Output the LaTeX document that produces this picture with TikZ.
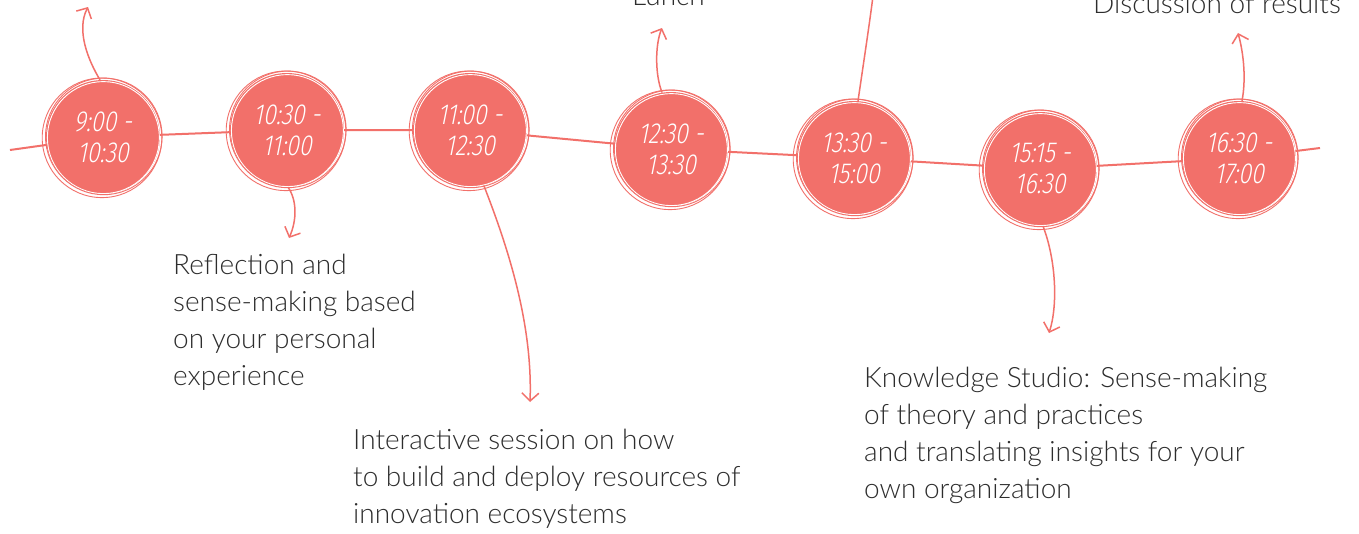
\documentclass[tikz,border=0pt]{standalone}
\usepackage{fontspec}
\setmainfont{Lato Light}
\newfontfamily\circfont{Fira Sans Light}[FakeStretch=0.8,FakeSlant=0.2]
\usetikzlibrary{arrows.meta,backgrounds}
\definecolor{coral}{RGB}{242,112,106}
\definecolor{ink}{RGB}{45,45,45}
\tikzset{
  slot/.style={circle, fill=coral, minimum size=114pt, inner sep=0pt,
    align=center, text=white, font=\circfont\fontsize{29}{31}\selectfont},
  outl/.style={draw=coral, line width=0.9pt},
  outw/.style={draw=white, line width=0.9pt},
  tl/.style={draw=coral, line width=2pt},
  arr/.style={draw=coral, line width=1.5pt, -{Straight Barb[length=8pt,width=17pt]}},
  plain/.style={draw=coral, line width=1.5pt},
  desc/.style={text=ink, align=left, inner sep=0pt, font=\fontsize{28}{37}\selectfont},
}
\begin{document}
\begin{tikzpicture}[x=1pt,y=-1pt]
\useasboundingbox (0,0) rectangle (1359,533);
\clip (0,0) rectangle (1359,533);

\node[slot] (c1) at (103,137) {9:00 -\\10:30};
\node[slot] (c2) at (287,130) {10:30 -\\11:00};
\node[slot] (c3) at (470,130) {11:00 -\\12:30};
\node[slot] (c4) at (671,149) {12:30 -\\13:30};
\node[slot] (c5) at (854,158) {13:30 -\\15:00};
\node[slot] (c6) at (1040,169) {15:15 -\\16:30};
\node[slot] (c7) at (1239,158) {16:30 -\\17:00};

\foreach \n in {c1,c2,c3,c4,c5,c6,c7}{
  \draw[outw] ([shift={(0.4,0.6)}]\n.center) circle[radius=56];
  \draw[outl] ([shift={(0.8,-0.6)}]\n.center) circle[radius=58.3];
  \draw[outl] ([shift={(-1,0.8)}]\n.center) circle[radius=59.8];
}

\begin{scope}[on background layer]
  \fill[white] (0,0) rectangle (1359,533);
  \coordinate (ls) at (10,150);
  \coordinate (le) at (1320,148);
  \draw[tl] (ls) -- (c1.center) -- (c2.center) -- (c3.center) -- (c4.center)
    -- (c5.center) -- (c6.center) -- (c7.center) -- (le);
\end{scope}

% arrows
\coordinate (a1) at (88,7);
\coordinate (a2) at (289,238);
\coordinate (a3) at (530,402);
\coordinate (a4) at (662,28);
\coordinate (a5) at (873,-4);
\coordinate (a6) at (1049,333);
\coordinate (a7) at (1238,33);
\draw[arr] (c1.93) .. controls (88,60) and (76,30) .. (a1);
\draw[arr] (c2.-89) .. controls (297,200) and (297,220) .. (a2);
\draw[arr] (c3.-76) .. controls (505,240) and (533,320) .. (a3);
\draw[arr] (c4.99) .. controls (655,75) and (655,45) .. (a4);
\draw[plain] (c5.86) .. controls (864,60) and (870,20) .. (a5);
\draw[arr] (c6.-87) .. controls (1056,260) and (1058,305) .. (a6);
\draw[arr] (c7.87) .. controls (1246,80) and (1244,55) .. (a7);

% texts
\node[desc, anchor=base west] (tl4) at (632,5) {Lunch};
\node[desc, anchor=base west] (tl7) at (1093,13) {Discussion of results};
\node[desc, anchor=north west] (t2) at (173,254) {Reflection and\\sense-making based\\on your personal\\experience};
\node[desc, anchor=north west] (t3) at (353,429) {Interactive session on how\\to build and deploy resources of\\innovation ecosystems};
\node[desc, anchor=north west] (t6) at (864,367) {Knowledge Studio: Sense-making\\of theory and practices\\and translating insights for your\\own organization};
\end{tikzpicture}
\end{document}
